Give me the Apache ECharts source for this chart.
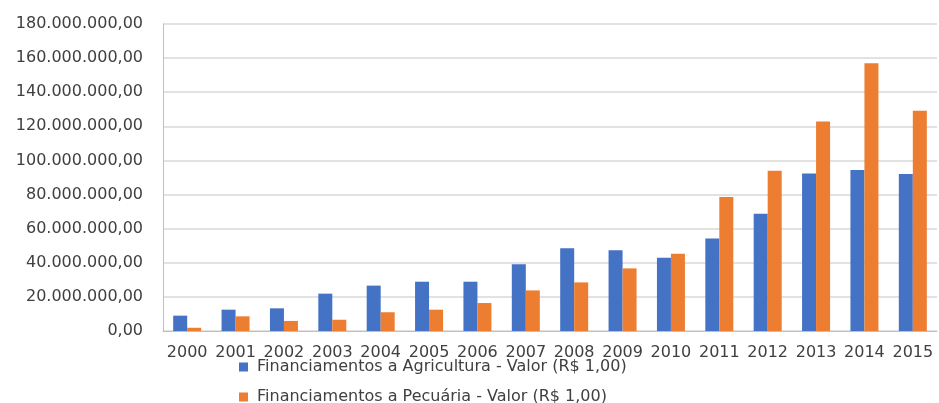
<!DOCTYPE html>
<html>
<head>
<meta charset="utf-8">
<script src="https://cdn.jsdelivr.net/npm/echarts@6/dist/echarts.min.js"></script>
<style>
html, body { margin: 0; padding: 0; background: #fff; }
#picture { width: 939px; height: 403px; }
</style>
</head>
<body>
<div id="picture"></div>
<script>
var years = ['2000','2001','2002','2003','2004','2005','2006','2007','2008','2009','2010','2011','2012','2013','2014','2015'];
// valores em R$
var agricultura = [9.0e6, 12.5e6, 13.3e6, 21.9e6, 26.6e6, 28.9e6, 28.9e6, 39.1e6, 48.5e6, 47.3e6, 43.0e6, 54.3e6, 68.8e6, 92.4e6, 94.4e6, 92.1e6];
var pecuaria = [1.9e6, 8.6e6, 5.9e6, 6.6e6, 11.0e6, 12.5e6, 16.4e6, 23.8e6, 28.5e6, 36.7e6, 45.3e6, 78.6e6, 94.0e6, 122.9e6, 157.0e6, 129.2e6];
var serieNomes = ['Financiamentos a Agricultura - Valor (R$ 1,00)', 'Financiamentos a Pecuária - Valor (R$ 1,00)'];

function formatBR(v) {
    var s = Math.round(v).toString();
    s = s.replace(/\B(?=(\d{3})+(?!\d))/g, '.');
    return s + ',00';
}

var myChart = echarts.init(document.getElementById('picture'));
var fonte = '"DejaVu Sans", sans-serif';
var legendaBase = {
    orient: 'horizontal',
    left: 239,
    padding: 0,
    itemWidth: 9,
    itemHeight: 9,
    itemGap: 10,
    icon: 'rect',
    textStyle: { fontSize: 16, color: '#404040', fontFamily: fonte, padding: [0, 0, 0, 4] }
};
var option = {
    backgroundColor: '#ffffff',
    animation: false,
    textStyle: { fontFamily: fonte },
    color: ['#4472C4', '#ED7D31'],
    grid: { left: 163, right: 2, top: 24, bottom: 72 },
    legend: [
        Object.assign({}, legendaBase, { top: 359, data: [serieNomes[0]] }),
        Object.assign({}, legendaBase, { top: 389, data: [serieNomes[1]] })
    ],
    xAxis: {
        type: 'category',
        data: years,
        axisLine: { lineStyle: { color: '#bfbfbf', width: 1 } },
        axisTick: { show: false },
        axisLabel: { color: '#404040', fontSize: 16, margin: 14, interval: 0, fontFamily: fonte }
    },
    yAxis: {
        type: 'value',
        min: 0,
        max: 180000000,
        interval: 20000000,
        axisLine: { show: true, lineStyle: { color: '#bfbfbf', width: 1 } },
        axisTick: { show: false },
        splitLine: { lineStyle: { color: '#d9d9d9', width: 1.5 } },
        axisLabel: { color: '#404040', fontSize: 16, margin: 20, formatter: formatBR, fontFamily: fonte }
    },
    series: [
        {
            name: serieNomes[0],
            type: 'bar',
            data: agricultura,
            barWidth: 14,
            barGap: '0%'
        },
        {
            name: serieNomes[1],
            type: 'bar',
            data: pecuaria,
            barWidth: 14,
            barGap: '0%'
        }
    ]
};
myChart.setOption(option);
</script>
</body>
</html>
